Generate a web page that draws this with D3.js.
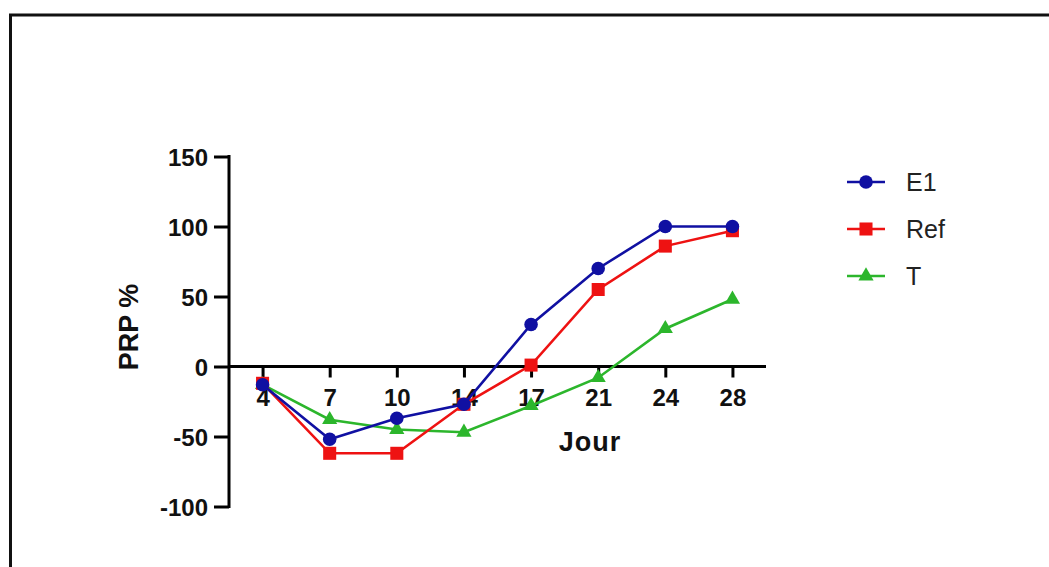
<!DOCTYPE html>
<html>
<head>
<meta charset="utf-8">
<script src="https://cdn.jsdelivr.net/npm/d3@7"></script>
<style>
  html, body { margin: 0; padding: 0; background: #fff; }
  svg { display: block; font-family: Arial, "Liberation Sans", sans-serif; }
</style>
</head>
<body>
<div id="chart"></div>
<script>
// days of measurement (categorical x axis)
const days = ["4", "7", "10", "14", "17", "21", "24", "28"];
const e1Values = [-13, -52, -37, -27, 30, 70, 100, 100];
const refValues = [-12, -62, -62, -27, 1, 55, 86, 97];
const tValues = [-13, -38, -45, -47, -28, -8, 27, 48];
const yTicks = [-100, -50, 0, 50, 100, 150];
const seriesNames = ["E1", "Ref", "T"];

const width = 1049, height = 567;

const series = [
    { name: seriesNames[0], values: e1Values, color: "#1010a2", symbol: d3.symbolCircle, size: 145 },
    { name: seriesNames[1], values: refValues, color: "#ee1212", symbol: d3.symbolSquare, size: 170 },
    { name: seriesNames[2], values: tValues, color: "#2cb62c", symbol: d3.symbolTriangle, size: 100 }
];

const svg = d3.select("#chart").append("svg")
    .attr("width", width)
    .attr("height", height);

// outer frame (only top and left edges are visible in the picture)
svg.append("rect")
    .attr("x", 10.5)
    .attr("y", 15)
    .attr("width", width + 20)
    .attr("height", height + 20)
    .attr("fill", "none")
    .attr("stroke", "#111")
    .attr("stroke-width", 3);

const x = d3.scalePoint()
    .domain(days)
    .range([229, 766])
    .padding(0.5);

const y = d3.scaleLinear()
    .domain([-100, 150])
    .range([506.5, 156.5]);

// y axis
const yAxis = svg.append("g")
    .attr("transform", "translate(229,0)")
    .call(d3.axisLeft(y).tickValues(yTicks).tickSize(15).tickPadding(6)
        .tickFormat(d => String(d)));
yAxis.select(".domain").attr("stroke", "#000").attr("stroke-width", 3)
    .attr("d", `M0,${y(-100) + 1.5}V${y(150) - 1.5}`);
yAxis.selectAll(".tick line").attr("stroke", "#000").attr("stroke-width", 3);
yAxis.selectAll(".tick text")
    .attr("fill", "#111")
    .style("font-size", "24px")
    .style("font-weight", "bold")
    .attr("dy", "0.36em");

// x axis drawn on the zero line
const xAxis = svg.append("g")
    .attr("transform", `translate(0,${y(0)})`)
    .call(d3.axisBottom(x).tickSize(11).tickPadding(11));
xAxis.select(".domain").attr("stroke", "#000").attr("stroke-width", 3)
    .attr("d", `M229,0H766`);
xAxis.selectAll(".tick line").attr("stroke", "#000").attr("stroke-width", 3);
xAxis.selectAll(".tick text")
    .attr("fill", "#111")
    .style("font-size", "24px")
    .style("font-weight", "bold");

// axis titles
svg.append("text")
    .attr("x", 590)
    .attr("y", 451)
    .attr("text-anchor", "middle")
    .style("font-size", "27px")
    .style("font-weight", "bold")
    .style("letter-spacing", "1px")
    .attr("fill", "#111")
    .text("Jour");

svg.append("text")
    .attr("transform", "translate(138,327)rotate(-90)")
    .attr("text-anchor", "middle")
    .style("font-size", "27px")
    .style("font-weight", "bold")
    .attr("fill", "#111")
    .text("PRP %");

// lines and markers, E1 drawn last so it sits on top
const line = d3.line()
    .x((d, i) => x(days[i]))
    .y(d => y(d));

const plot = svg.append("g").attr("class", "series");
series.slice().reverse().forEach(s => {
    const g = plot.append("g");
    g.append("path")
        .datum(s.values)
        .attr("d", line)
        .attr("fill", "none")
        .attr("stroke", s.color)
        .attr("stroke-width", 2.6);
    g.selectAll("path.marker")
        .data(s.values)
        .enter().append("path")
        .attr("class", "marker")
        .attr("d", d3.symbol().type(s.symbol).size(s.size))
        .attr("transform", (d, i) => `translate(${x(days[i])},${y(d)})`)
        .attr("fill", s.color);
});

// legend
const legend = svg.append("g")
    .attr("class", "legend")
    .selectAll("g")
    .data(series)
    .enter().append("g")
    .attr("transform", (d, i) => `translate(0,${182 + i * 47})`);

legend.append("line")
    .attr("x1", 847)
    .attr("x2", 885)
    .attr("stroke", d => d.color)
    .attr("stroke-width", 2.6);
legend.append("path")
    .attr("d", d => d3.symbol().type(d.symbol).size(d.size)())
    .attr("transform", "translate(866,0)")
    .attr("fill", d => d.color);
legend.append("text")
    .attr("x", 906)
    .attr("dy", "0.36em")
    .style("font-size", "25px")
    .attr("fill", "#222")
    .text(d => d.name);
</script>
</body>
</html>
